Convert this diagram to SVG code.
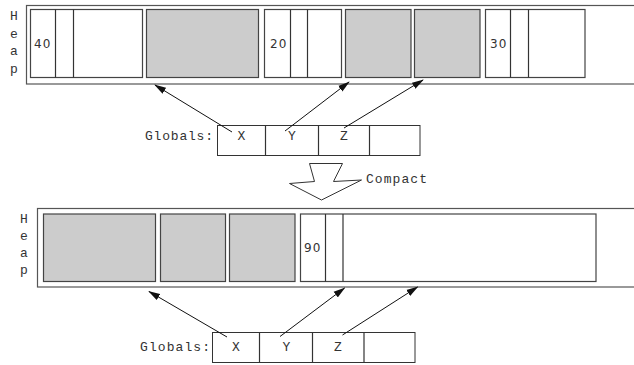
<svg xmlns="http://www.w3.org/2000/svg" width="634" height="365" viewBox="0 0 634 365">
<style>
.outer{fill:#fff;stroke:#555;stroke-width:1.2}
.blk{fill:#fff;stroke:#444;stroke-width:1.2}
.gray{fill:#cccccc;stroke:#444;stroke-width:1.2}
.div{stroke:#333;stroke-width:1.2}
.num{font-family:"DejaVu Sans",sans-serif;font-size:12px;fill:#333;letter-spacing:1px}
.mono{font-family:"Liberation Mono","Courier New",monospace;font-size:13px;fill:#333}
.cell{fill:#fff;stroke:#333;stroke-width:1}
.conn{stroke:#111;stroke-width:1;fill:none;marker-end:url(#ah)}
</style>
<defs>
<marker id="ah" markerWidth="12" markerHeight="8" refX="11" refY="4" orient="auto" markerUnits="userSpaceOnUse">
<path d="M0,0.5 L12,4 L0,7.5 Z" fill="#111"/>
</marker>
</defs>
<rect width="634" height="365" fill="#fff"/>

<g id="heap-top">
<rect class="outer" x="26.5" y="5.5" width="620" height="78.5"/>
<text class="mono" x="14" y="20" text-anchor="middle">H</text>
<text class="mono" x="14" y="38" text-anchor="middle">e</text>
<text class="mono" x="14" y="55" text-anchor="middle">a</text>
<text class="mono" x="14" y="72.5" text-anchor="middle">p</text>
<rect class="blk" x="30.5" y="9.5" width="112" height="68"/>
<line class="div" x1="55.5" y1="9.5" x2="55.5" y2="77.5"/>
<line class="div" x1="73.5" y1="9.5" x2="73.5" y2="77.5"/>
<text class="num" x="34" y="48">40</text>
<rect class="gray" x="146.5" y="9.5" width="112" height="68"/>
<rect class="blk" x="264.5" y="9.5" width="77" height="68"/>
<line class="div" x1="290.5" y1="9.5" x2="290.5" y2="77.5"/>
<line class="div" x1="307.5" y1="9.5" x2="307.5" y2="77.5"/>
<text class="num" x="270" y="48">20</text>
<rect class="gray" x="345.5" y="9.5" width="65.5" height="68"/>
<rect class="gray" x="414.5" y="9.5" width="65.5" height="68"/>
<rect class="blk" x="485.5" y="9.5" width="99.5" height="68"/>
<line class="div" x1="510.5" y1="9.5" x2="510.5" y2="77.5"/>
<line class="div" x1="528.5" y1="9.5" x2="528.5" y2="77.5"/>
<text class="num" x="490" y="48">30</text>
</g>

<g id="globals-top">
<text class="mono" x="145" y="140" textLength="68" lengthAdjust="spacing">Globals:</text>
<rect class="cell" x="217.5" y="125.5" width="202.5" height="30"/>
<line class="div" x1="265.5" y1="125.5" x2="265.5" y2="155.5" stroke-width="1"/>
<line class="div" x1="318.5" y1="125.5" x2="318.5" y2="155.5" stroke-width="1"/>
<line class="div" x1="369.5" y1="125.5" x2="369.5" y2="155.5" stroke-width="1"/>
<text class="mono" x="241.5" y="140" text-anchor="middle">X</text>
<text class="mono" x="292" y="140" text-anchor="middle">Y</text>
<text class="mono" x="344" y="140" text-anchor="middle">Z</text>
</g>

<g id="compact">
<path d="M309.5,163.5 L342.5,163.5 L333.5,181.5 L361.5,180 L321.5,200 L289.5,183.5 L314.5,181.5 Z" fill="#fff" stroke="#333" stroke-width="1"/>
<text class="mono" x="366" y="183" textLength="61" lengthAdjust="spacing">Compact</text>
</g>

<g id="heap-bottom">
<rect class="outer" x="37.5" y="208.5" width="610" height="78.5"/>
<text class="mono" x="24" y="223" text-anchor="middle">H</text>
<text class="mono" x="24" y="240" text-anchor="middle">e</text>
<text class="mono" x="24" y="257" text-anchor="middle">a</text>
<text class="mono" x="24" y="274" text-anchor="middle">p</text>
<rect class="gray" x="43.5" y="214" width="112" height="67.5"/>
<rect class="gray" x="160.5" y="214" width="65" height="67.5"/>
<rect class="gray" x="229.5" y="214" width="65.5" height="67.5"/>
<rect class="blk" x="300.5" y="214" width="295.5" height="67.5"/>
<line class="div" x1="325.5" y1="214" x2="325.5" y2="281.5"/>
<line class="div" x1="343" y1="214" x2="343" y2="281.5"/>
<text class="num" x="304" y="252">90</text>
</g>

<g id="globals-bottom">
<text class="mono" x="140" y="350.5" textLength="70" lengthAdjust="spacing">Globals:</text>
<rect class="cell" x="212.5" y="332.5" width="202.5" height="30"/>
<line class="div" x1="259.5" y1="332.5" x2="259.5" y2="362.5" stroke-width="1"/>
<line class="div" x1="312.5" y1="332.5" x2="312.5" y2="362.5" stroke-width="1"/>
<line class="div" x1="364" y1="332.5" x2="364" y2="362.5" stroke-width="1"/>
<text class="mono" x="236" y="350.5" text-anchor="middle">X</text>
<text class="mono" x="286.5" y="350.5" text-anchor="middle">Y</text>
<text class="mono" x="338" y="350.5" text-anchor="middle">Z</text>
</g>

<g id="connectors">
<line class="conn" x1="232" y1="132" x2="155" y2="85"/>
<line class="conn" x1="285" y1="131" x2="349" y2="82"/>
<line class="conn" x1="344" y1="128" x2="423" y2="80"/>
<line class="conn" x1="227" y1="337" x2="149" y2="291.5"/>
<line class="conn" x1="280" y1="336.5" x2="344.5" y2="288"/>
<line class="conn" x1="342.5" y1="335" x2="417.5" y2="287"/>
</g>
</svg>
